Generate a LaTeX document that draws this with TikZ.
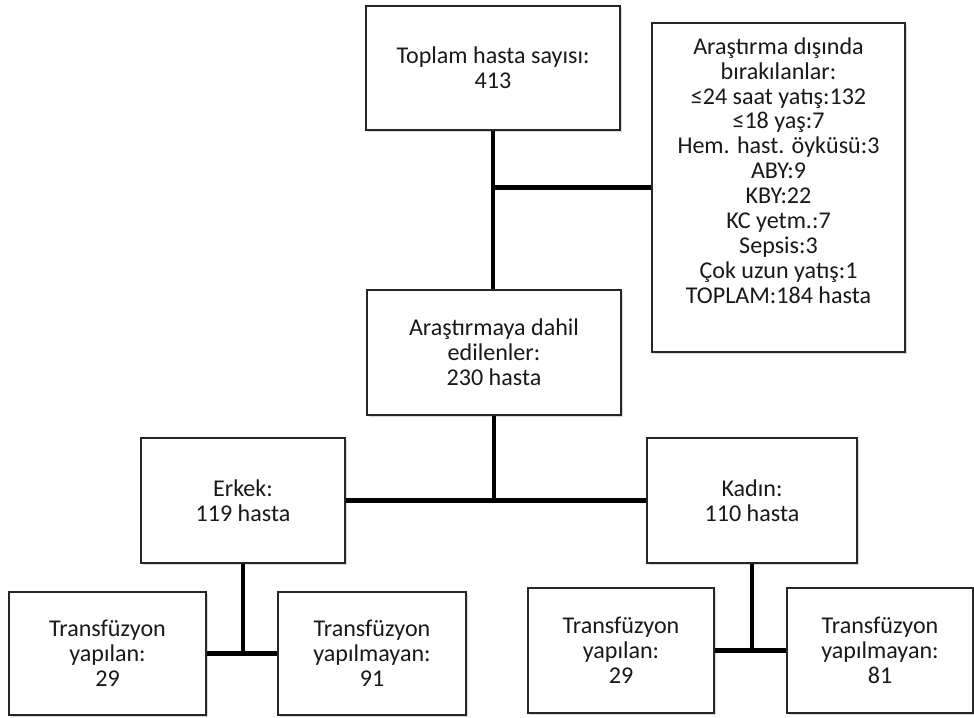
\documentclass[tikz,border=0pt]{standalone}
\usepackage{fontspec}
\setmainfont{Carlito}
\usetikzlibrary{shadows}
\tikzset{
x=0.02cm, y=-0.02cm, % one unit is one pixel of the scan
box/.style={draw=black!85, line width=1.1pt, fill=white, align=center, text=black!90, inner sep=2pt,
  font=\fontsize{13.7}{14.2}\selectfont,
  drop shadow={shadow xshift=0.9pt, shadow yshift=-1pt, opacity=0.3}}, % every box of the chart
link/.style={line width=2.3pt}, % the thick joining lines
}

\begin{document}
\begin{tikzpicture}
\useasboundingbox (0,0) rectangle (974,717);

\node[box, minimum width=5.08cm, minimum height=2.48cm] at (493,68) (top) {Toplam hasta sayısı:\\413};
\node[box, minimum width=5.06cm, minimum height=6.58cm] at (778.5,187.5) (excl) {Araştırma dışında\\bırakılanlar:\\≤24 saat yatış:132\\≤18 yaş:7\\Hem. hast. öyküsü:3\\ABY:9\\KBY:22\\KC yetm.:7\\Sepsis:3\\Çok uzun yatış:1\\TOPLAM:184 hasta\rule[-0.68cm]{0pt}{0.68cm}};
\node[box, minimum width=5.08cm, minimum height=2.5cm] at (494,352.5) (mid) {Araştırmaya dahil\\edilenler:\\230 hasta};

\node[box, minimum width=4.08cm, minimum height=2.5cm] at (243,500.5) (erkek) {Erkek:\\119 hasta};
\node[box, minimum width=4.2cm, minimum height=2.5cm] at (752,500.5) (kadin) {Kadın:\\110 hasta};

\node[box, minimum width=3.94cm, minimum height=2.46cm] at (107.5,653.5) (t1) {Transfüzyon\\yapılan:\\29};
\node[box, minimum width=3.76cm, minimum height=2.46cm] at (372,653.5) (t2) {Transfüzyon\\yapılmayan:\\91};
\node[box, minimum width=3.72cm, minimum height=2.5cm] at (621,650.5) (t3) {Transfüzyon\\yapılan:\\29};
\node[box, minimum width=3.72cm, minimum height=2.5cm] at (880,650.5) (t4) {Transfüzyon\\yapılmayan:\\81};

\draw[link] (top) -- (top |- mid.north);
\draw[link] (excl.west -| top.south) -- (excl.west);
\draw[link] (mid) -- (mid |- erkek.east);
\draw[link] (erkek) -- (kadin);
\draw[link] (erkek) -- (erkek |- t1.east);
\draw[link] (t1) -- (t2);
\draw[link] (kadin) -- (kadin |- t3.east);
\draw[link] (t3) -- (t4);

\end{tikzpicture}
\end{document}
